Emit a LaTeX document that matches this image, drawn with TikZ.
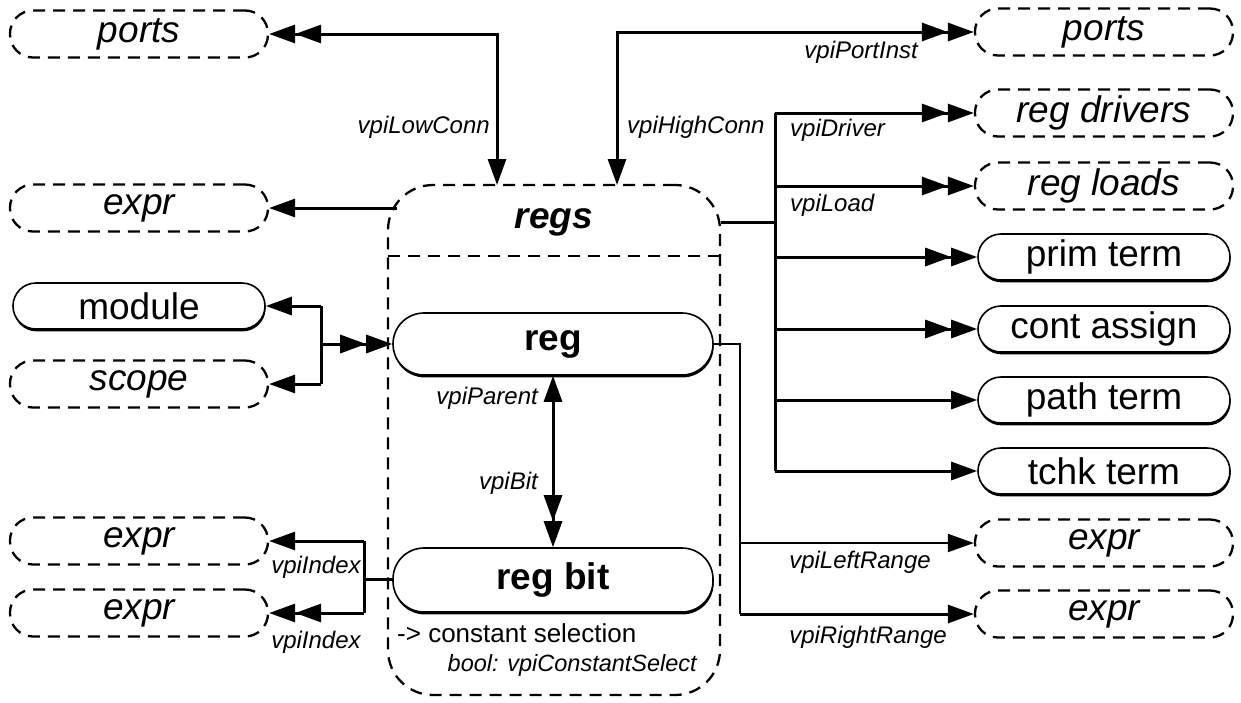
\documentclass[tikz,border=0pt]{standalone}
\usepackage{fontspec}
\setmainfont{Liberation Sans}
\usetikzlibrary{arrows.meta,shadows}
\tikzset{ah/.tip={Triangle[length=26pt,width=18pt]}}
\begin{document}
\begin{tikzpicture}[x=1pt,y=-1pt,
  dnode/.style={draw, dash pattern=on 12pt off 8pt, line width=2.3pt, rounded corners=23pt,
    minimum width=258pt, minimum height=47pt, inner sep=0pt,
    font=\fontsize{37}{40}\selectfont\itshape},
  snode/.style={draw, line width=1.6pt, rounded corners=23pt, minimum width=252pt,
    minimum height=46pt, inner sep=0pt, fill=white,
    drop shadow={shadow xshift=0.6pt, shadow yshift=-2.4pt, opacity=1, fill=black},
    font=\fontsize{37}{40}\selectfont},
  bignode/.style={snode, minimum width=320pt, rounded corners=31pt,
    font=\fontsize{37}{40}\selectfont\bfseries},
  lbl/.style={font=\fontsize{24}{26}\selectfont\itshape, inner sep=0pt},
  conn/.style={line width=3pt},
  thinconn/.style={line width=2pt},
  regsbox/.style={draw, dash pattern=on 12pt off 8pt, line width=2.3pt}
]
\useasboundingbox (0,0) rectangle (1241,702);

% regs container
\node[regsbox, rounded corners=45pt, minimum width=332pt, minimum height=510pt, inner sep=0pt] (regs) at (554,440) {};
\draw[regsbox] (388,256) -- (720,256);
\node[font=\fontsize{37}{40}\selectfont\bfseries\itshape, inner sep=0pt] (regsl) at (554,222) {regs};
\node[bignode, minimum height=62pt] (reg) at (553,344) {reg};
\node[bignode, minimum height=64pt] (regbit) at (553,580) {reg bit};
\node[font=\fontsize{26}{30}\selectfont, anchor=west, inner sep=0pt] (cs) at (397,633) {-> constant selection};
\node[lbl, font=\fontsize{23.5}{26}\selectfont\itshape, anchor=east] (bcs) at (697,665) {bool: vpiConstantSelect};

% left column
\node[dnode] (pl) at (139,34) {ports};
\node[dnode] (el) at (139,208) {expr};
\node[snode] (mod) at (139,306) {module};
\node[dnode] (sc) at (139,384) {scope};
\node[dnode] (ei1) at (139,541) {expr};
\node[dnode] (ei2) at (139,613) {expr};

% right column
\node[dnode] (pr) at (1104,32) {ports};
\node[dnode] (drv) at (1104,113) {reg drivers};
\node[dnode] (ld) at (1104,186) {reg loads};
\node[snode] (prim) at (1104,257) {prim term};
\node[snode] (cont) at (1104,329) {cont assign};
\node[snode] (path) at (1104,400) {path term};
\node[snode] (tchk) at (1104,471) {tchk term};
\node[dnode] (er1) at (1104,543) {expr};
\node[dnode] (er2) at (1104,614) {expr};

% junction coordinates
\coordinate (lc) at (497,185);
\coordinate (hc) at (617,185);
\coordinate (es) at (397,208);
\coordinate (bus) at (775,222);
\coordinate (mj) at (321,344);
\coordinate (ij) at (364,579);
\coordinate (rj) at (740,344);

% top connections
\draw[conn, {ah[] ah[]}-{ah[]}] (pl.east) -| (lc);
\draw[conn, {ah[]}-{ah[] ah[]}] (hc) |- (pr.west);
\draw[conn, -{ah[]}] (es) -- (el.east);

% bus on the right
\draw[conn] (regs.east |- bus) -- (bus);
\draw[conn] (bus |- drv.west) -- (bus |- tchk.west);
\foreach \n in {drv,ld,prim,cont}
  \draw[conn, -{ah[] ah[]}] (bus |- \n.west) -- (\n.west);
\foreach \n in {path,tchk}
  \draw[conn, -{ah[]}] (bus |- \n.west) -- (\n.west);

% module / scope
\draw[conn, -{ah[] ah[]}] (mj) -- (reg.west);
\draw[conn] (mj |- mod.east) -- (mj |- sc.east);
\draw[conn, -{ah[]}] (mj |- mod.east) -- (mod.east);
\draw[conn, -{ah[]}] (mj |- sc.east) -- (sc.east);

% reg <-> reg bit
\draw[conn, {ah[]}-{ah[] ah[]}] (reg.south) -- (regbit.north);

% reg bit -> index exprs
\draw[conn] (regbit.west |- ij) -- (ij);
\draw[conn] (ij |- ei1.east) -- (ij |- ei2.east);
\draw[conn, -{ah[]}] (ij |- ei1.east) -- (ei1.east);
\draw[conn, -{ah[] ah[]}] (ij |- ei2.east) -- (ei2.east);

% reg -> range exprs
\draw[thinconn] (reg.east) -- (rj) -- (rj |- er2.west);
\draw[thinconn, -{ah[]}] (rj |- er1.west) -- (er1.west);
\draw[conn, -{ah[]}] (rj |- er2.west) -- (er2.west);

% labels
\node[lbl, anchor=east] (l1) at (490,127) {vpiLowConn};
\node[lbl, anchor=west] (l2) at (627,127) {vpiHighConn};
\node[lbl, anchor=east] (l3) at (918,52) {vpiPortInst};
\node[lbl, anchor=west] (l4) at (790,130) {vpiDriver};
\node[lbl, anchor=west] (l5) at (790,205) {vpiLoad};
\node[lbl, anchor=east] (l6) at (538,398) {vpiParent};
\node[lbl, anchor=east] (l7) at (538,483) {vpiBit};
\node[lbl] (l8) at (316,567) {vpiIndex};
\node[lbl] (l9) at (316,642) {vpiIndex};
\node[lbl] (l10) at (860,562) {vpiLeftRange};
\node[lbl] (l11) at (868,637) {vpiRightRange};
\end{tikzpicture}
\end{document}
